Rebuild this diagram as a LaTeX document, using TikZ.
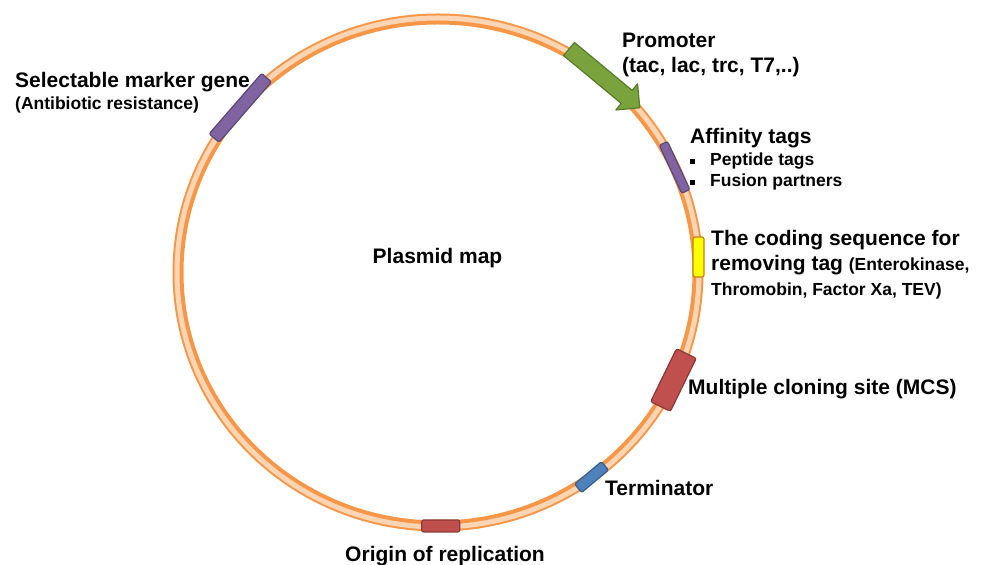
\documentclass[tikz,border=0pt]{standalone}
\usepackage{fontspec}
\setmainfont{Liberation Sans}
\usetikzlibrary{calc, positioning}
\definecolor{ringorange}{RGB}{247, 150, 70}
\definecolor{ringpeach}{RGB}{252, 213, 181}
\definecolor{promgreen}{RGB}{122, 163, 62}
\definecolor{promgreendark}{RGB}{88, 122, 44}
\definecolor{tagpurple}{RGB}{128, 100, 162}
\definecolor{tagpurpledark}{RGB}{92, 71, 118}
\definecolor{siteyellow}{RGB}{255, 255, 0}
\definecolor{siteyellowdark}{RGB}{196, 128, 20}
\definecolor{sitered}{RGB}{192, 80, 77}
\definecolor{siteredark}{RGB}{140, 56, 54}
\definecolor{termblue}{RGB}{79, 129, 189}
\definecolor{termbluedark}{RGB}{56, 93, 138}
\newcommand{\bigfont}{\fontsize{21}{25}\selectfont\bfseries}
\newcommand{\smallfont}{\fontsize{17.5}{21.5}\selectfont\bfseries}
\newcommand{\tagbullet}{\makebox[20pt][l]{\rule[1.5pt]{5pt}{5pt}}}

\begin{document}
\begin{tikzpicture}[x=1pt, y=1pt,
    genebox/.style={draw, line width=1.2pt, rounded corners=2pt, inner sep=0pt},
    biglabel/.style={font=\bigfont, inner sep=0pt, align=left},
    smalllabel/.style={font=\smallfont, inner sep=0pt, align=left}]
    \useasboundingbox (0,0) rectangle (983,565);
    \coordinate (c) at (438,292.5);

    % ring of the plasmid
    \draw[ringorange, line width=11pt] (c) ellipse [x radius=260pt, y radius=253.5pt];
    \draw[ringpeach, line width=5pt] (c) ellipse [x radius=261pt, y radius=254.5pt];

    % parts on the ring
    \node[genebox, fill=tagpurple, draw=tagpurpledark, minimum width=80pt, minimum height=13pt,
          rotate=49] (marker) at ($(c)+(139.5:260pt and 253.5pt)$) {};
    \node[genebox, fill=tagpurple, draw=tagpurpledark, minimum width=53pt, minimum height=9pt,
          rotate=115] (affinity) at ($(c)+(24.5:260pt and 253.5pt)$) {};
    \node[genebox, fill=siteyellow, draw=siteyellowdark, minimum width=40pt, minimum height=11pt,
          rotate=90] (cleavage) at ($(c)+(3.5:261pt and 253.5pt)$) {};
    \node[genebox, fill=sitered, draw=siteredark, minimum width=59pt, minimum height=22pt,
          rotate=64] (mcs) at ($(c)+(-25.1:260pt and 253.5pt)$) {};
    \node[genebox, fill=termblue, draw=termbluedark, minimum width=35pt, minimum height=11pt,
          rotate=40] (terminator) at ($(c)+(-53.8:260pt and 253.5pt)$) {};
    \node[genebox, fill=sitered, draw=siteredark, minimum width=38pt, minimum height=12pt]
          (origin) at ($(c)+(-89.4:260pt and 253.5pt)$) {};

    % promoter arrow
    \begin{scope}[shift={(569,516)}, rotate=-39.7]
        \filldraw[fill=promgreen, draw=promgreendark, line width=1.2pt, line join=round]
            (0,8.5) -- (75,8.5) -- (75,17) -- (92,0) -- (75,-17) -- (75,-8.5) -- (0,-8.5) -- cycle;
    \end{scope}

    % labels (base = last line)
    \node[biglabel, anchor=base] (title) at (437.5,301) {Plasmid map};
    \node[biglabel, anchor=base west] (promlabel) at (622,492) {Promoter\\(tac, lac, trc, T7,..)};
    \node[biglabel, anchor=base west] (afflabel) at (690,421.7) {Affinity tags};
    \node[smalllabel, anchor=base west] (afflist) at (690,378.3) {\tagbullet Peptide tags\\\tagbullet Fusion partners};
    \node[biglabel, anchor=base west] (cleavlabel) at (711,269)
        {The coding sequence for\\removing tag {\smallfont(Enterokinase,}\\{\smallfont Thromobin, Factor Xa, TEV)}};
    \node[biglabel, anchor=base west] (mcslabel) at (688,170) {Multiple cloning site (MCS)};
    \node[biglabel, anchor=base west] (termlabel) at (605,69.3) {Terminator};
    \node[biglabel, anchor=base] (orilabel) at (445,3.3) {Origin of replication};
    \node[biglabel, anchor=base west] (markerlabel) at (15,455.7)
        {Selectable marker gene\\[-3pt]{\smallfont(Antibiotic resistance)}};
\end{tikzpicture}
\end{document}
